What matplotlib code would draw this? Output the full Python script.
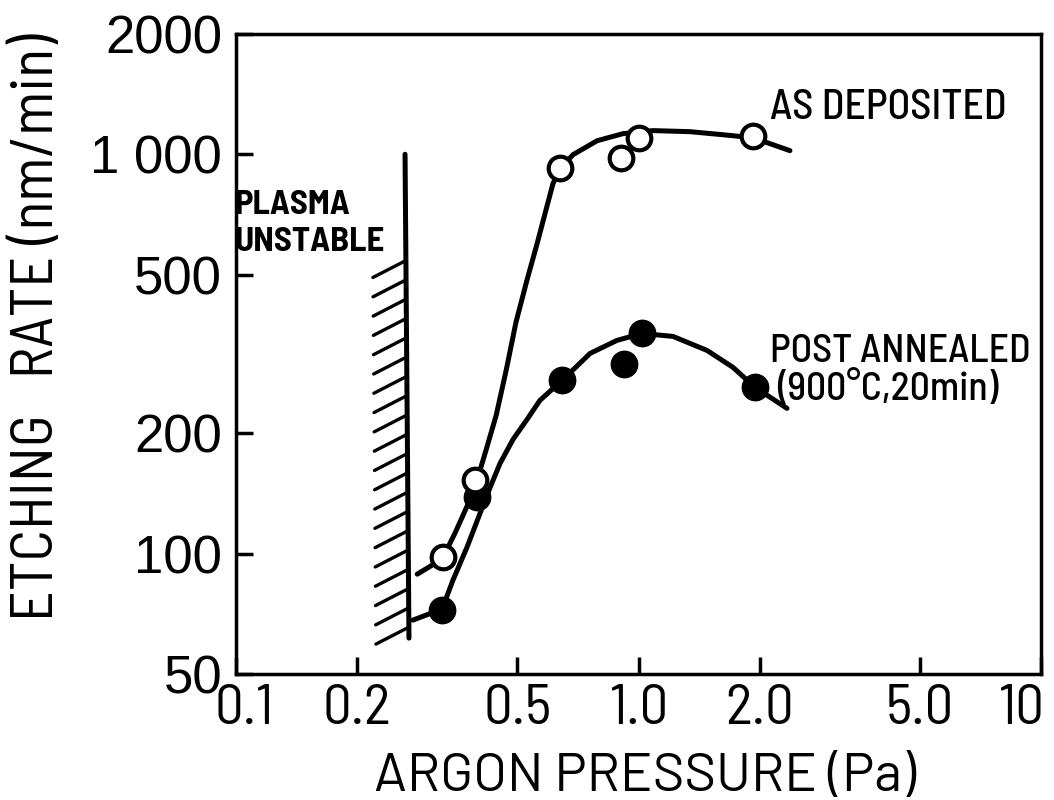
import matplotlib
matplotlib.use('Agg')
import matplotlib.pyplot as plt
import numpy as np
from matplotlib.ticker import FixedLocator, NullLocator
from matplotlib.transforms import ScaledTranslation

pressure_dep = [0.327, 0.393, 0.638, 0.905, 1.003, 1.925]
rate_dep = [98, 153, 926, 981, 1100, 1113]
pressure_ann = [0.325, 0.397, 0.646, 0.920, 1.020, 1.947]
rate_ann = [72.5, 138.5, 272, 298, 356, 261]

# hand drawn guide curves
curve_dep_p = [0.282, 0.325, 0.350, 0.375, 0.397, 0.418, 0.443, 0.469, 0.496, 0.528, 0.560,
               0.593, 0.613, 0.638, 0.688, 0.789, 0.915, 1.086, 1.343, 1.622, 1.925, 2.378]
curve_dep_r = [88.9, 96.9, 112.6, 131.5, 152.8, 181.6, 222.1, 287.7, 379.3, 483, 598,
               744, 844, 920, 998, 1081, 1126, 1146, 1139, 1119, 1100, 1021]
curve_ann_p = [0.275, 0.325, 0.346, 0.375, 0.404, 0.428, 0.453, 0.488, 0.531, 0.569,
               0.646, 0.758, 0.884, 1.020, 1.218, 1.480, 1.717, 1.947, 2.338]
curve_ann_r = [68.2, 72.7, 85.9, 103.9, 126.3, 146.7, 168.4, 193.4, 218.3, 242.1,
               271.6, 317.3, 342, 356, 350, 322.8, 292.8, 261, 231.2]

# plasma stability limit
limit_p = [0.263, 0.269]
limit_r = [1000, 61.5]

x_ticks = [0.1, 0.2, 0.5, 1.0, 2.0, 5.0, 10]
x_labels = ['0.1', '0.2', '0.5', '1.0', '2.0', '5.0', '10']
y_ticks = [50, 100, 200, 500, 1000, 2000]
y_labels = ['50', '100', '200', '500', '1 000', '2000']

NARROW = ['Barlow Semi Condensed', 'DejaVu Sans']
WIDE = ['Barlow', 'DejaVu Sans']
REGULAR = ['Liberation Sans', 'DejaVu Sans']
plt.rcParams['font.family'] = NARROW

fig = plt.figure(figsize=(10.54, 8), dpi=100)
ax = fig.add_axes([236 / 1054, 126 / 800, 805 / 1054, 640 / 800])
ax.set_xscale('log')
ax.set_yscale('log')
ax.set_xlim(0.1, 10)
ax.set_ylim(50, 2000)

# curves
ax.plot(curve_dep_p, curve_dep_r, color='k', lw=3.6, solid_capstyle='round',
        solid_joinstyle='round', zorder=2)
ax.plot(curve_ann_p, curve_ann_r, color='k', lw=3.6, solid_capstyle='round',
        solid_joinstyle='round', zorder=2)

# points
ax.plot(pressure_dep, rate_dep, 'o', ms=17, mfc='white', mec='k', mew=3, zorder=4)
ax.plot(pressure_ann, rate_ann, 'o', ms=19, mfc='k', mec='k', mew=1, zorder=3)

# unstable region boundary with hatch strokes
ax.plot(limit_p, limit_r, color='k', lw=3.6, solid_capstyle='round', zorder=2)
lp0, lp1 = np.log10(limit_p)
lr0, lr1 = np.log10(limit_r)
for r in np.geomspace(542, 65.5, 20):
    t = (lr0 - np.log10(r)) / (lr0 - lr1)
    p0 = 10 ** (lp0 + t * (lp1 - lp0))
    ax.plot([p0, p0 * 10 ** (-33 / 402.5)], [r, r * 10 ** (-17 / 400)],
            color='k', lw=2.4, solid_capstyle='round', zorder=2)

# annotations
ax.text(0.099, 710, 'PLASMA', fontsize=25, fontweight='bold', family=NARROW,
        ha='left', va='baseline')
ax.text(0.099, 574, 'UNSTABLE', fontsize=25, fontweight='bold', family=NARROW,
        ha='left', va='baseline')
ax.text(2.12, 1227, 'AS DEPOSITED', fontsize=30, fontweight='medium', family=NARROW,
        ha='left', va='baseline')
ax.text(2.12, 302, 'POST ANNEALED', fontsize=28.5, fontweight='medium', family=NARROW,
        ha='left', va='baseline')
ax.text(2.21, 243, '(900°C,20min)', fontsize=28.5, fontweight='medium', family=NARROW,
        ha='left', va='baseline')

# axes styling
for s in ax.spines.values():
    s.set_linewidth(2.5)
ax.xaxis.set_major_locator(FixedLocator(x_ticks))
ax.yaxis.set_major_locator(FixedLocator(y_ticks))
ax.xaxis.set_minor_locator(NullLocator())
ax.yaxis.set_minor_locator(NullLocator())
ax.set_xticklabels(x_labels, family=NARROW, fontsize=41)
ax.set_yticklabels(y_labels, family=REGULAR, fontsize=38)
ax.tick_params(axis='both', direction='in', length=12, width=2.5)
ax.tick_params(axis='x', pad=7)
ax.tick_params(axis='y', pad=10)

# end labels on the x axis sit inward as in the original
xl = ax.get_xticklabels()
xl[0].set_transform(xl[0].get_transform() + ScaledTranslation(0.08, 0, fig.dpi_scale_trans))
xl[-1].set_transform(xl[-1].get_transform() + ScaledTranslation(-0.2, 0, fig.dpi_scale_trans))

fig.text(645 / 1054, 9 / 800, 'ARGON PRESSURE (Pa)', fontsize=39, family=WIDE,
         ha='center', va='baseline')
fig.text(38 / 1054, (800 - 327) / 800, 'ETCHING   RATE (nm/min)', fontsize=43,
         family=NARROW, rotation=90, ha='center', va='center')

fig.savefig('out.png', dpi=100)
